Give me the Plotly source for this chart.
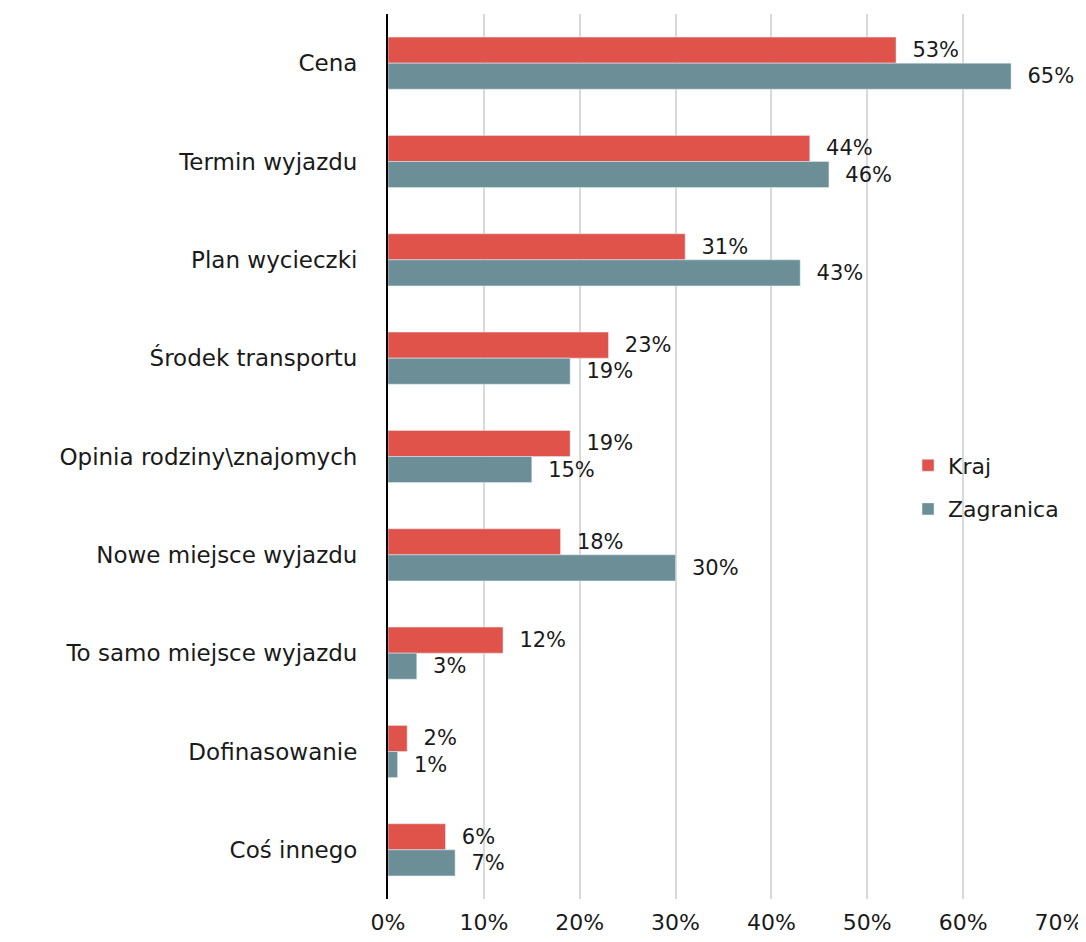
import plotly.graph_objects as go

categories = ["Cena", "Termin wyjazdu", "Plan wycieczki", "Środek transportu",
              "Opinia rodziny\\znajomych", "Nowe miejsce wyjazdu",
              "To samo miejsce wyjazdu", "Dofinasowanie", "Coś innego"]
kraj = [0.53, 0.44, 0.31, 0.23, 0.19, 0.18, 0.12, 0.02, 0.06]
zagranica = [0.65, 0.46, 0.43, 0.19, 0.15, 0.30, 0.03, 0.01, 0.07]
x_ticks = [0, 0.1, 0.2, 0.3, 0.4, 0.5, 0.6, 0.7]

FONT = "DejaVu Sans"
fig = go.Figure()
fig.add_trace(go.Bar(y=categories, x=kraj, orientation="h", name="Kraj",
                     marker_color="#E0534A", legendgroup="a",
                     texttemplate="\u00a0\u00a0%{x:.0%}", textposition="outside",
                     textfont=dict(size=21, color="#1a1a1a", family=FONT), cliponaxis=False))
fig.add_trace(go.Bar(y=categories, x=zagranica, orientation="h", name="Zagranica",
                     marker_color="#6B8E97", legendgroup="b",
                     texttemplate="\u00a0\u00a0%{x:.0%}", textposition="outside",
                     textfont=dict(size=21, color="#1a1a1a", family=FONT), cliponaxis=False))

fig.update_layout(
    width=1086, height=942,
    margin=dict(l=380, r=35, t=6, b=51),
    barmode="group", bargap=0.47, bargroupgap=0,
    plot_bgcolor="white", paper_bgcolor="white",
    font=dict(family=FONT, size=22, color="#1a1a1a"),
    uniformtext=dict(mode=False),
    legend=dict(x=0.775, y=0.465, xanchor="left", yanchor="middle",
                font=dict(size=22), tracegroupgap=12, bgcolor="rgba(0,0,0,0)"),
    xaxis=dict(range=[0, 0.70], tickvals=x_ticks, tickformat=".0%",
               showgrid=True, gridcolor="#D9D9D9", gridwidth=2,
               zeroline=False, showline=False, ticks="", ticklabelstandoff=8,
               tickfont=dict(size=22), automargin=False),
    yaxis=dict(autorange="reversed", showline=True, linecolor="black", linewidth=2,
               ticks="", ticklabelstandoff=24, tickfont=dict(size=23), automargin=False),
)
fig.write_html("out.html")
